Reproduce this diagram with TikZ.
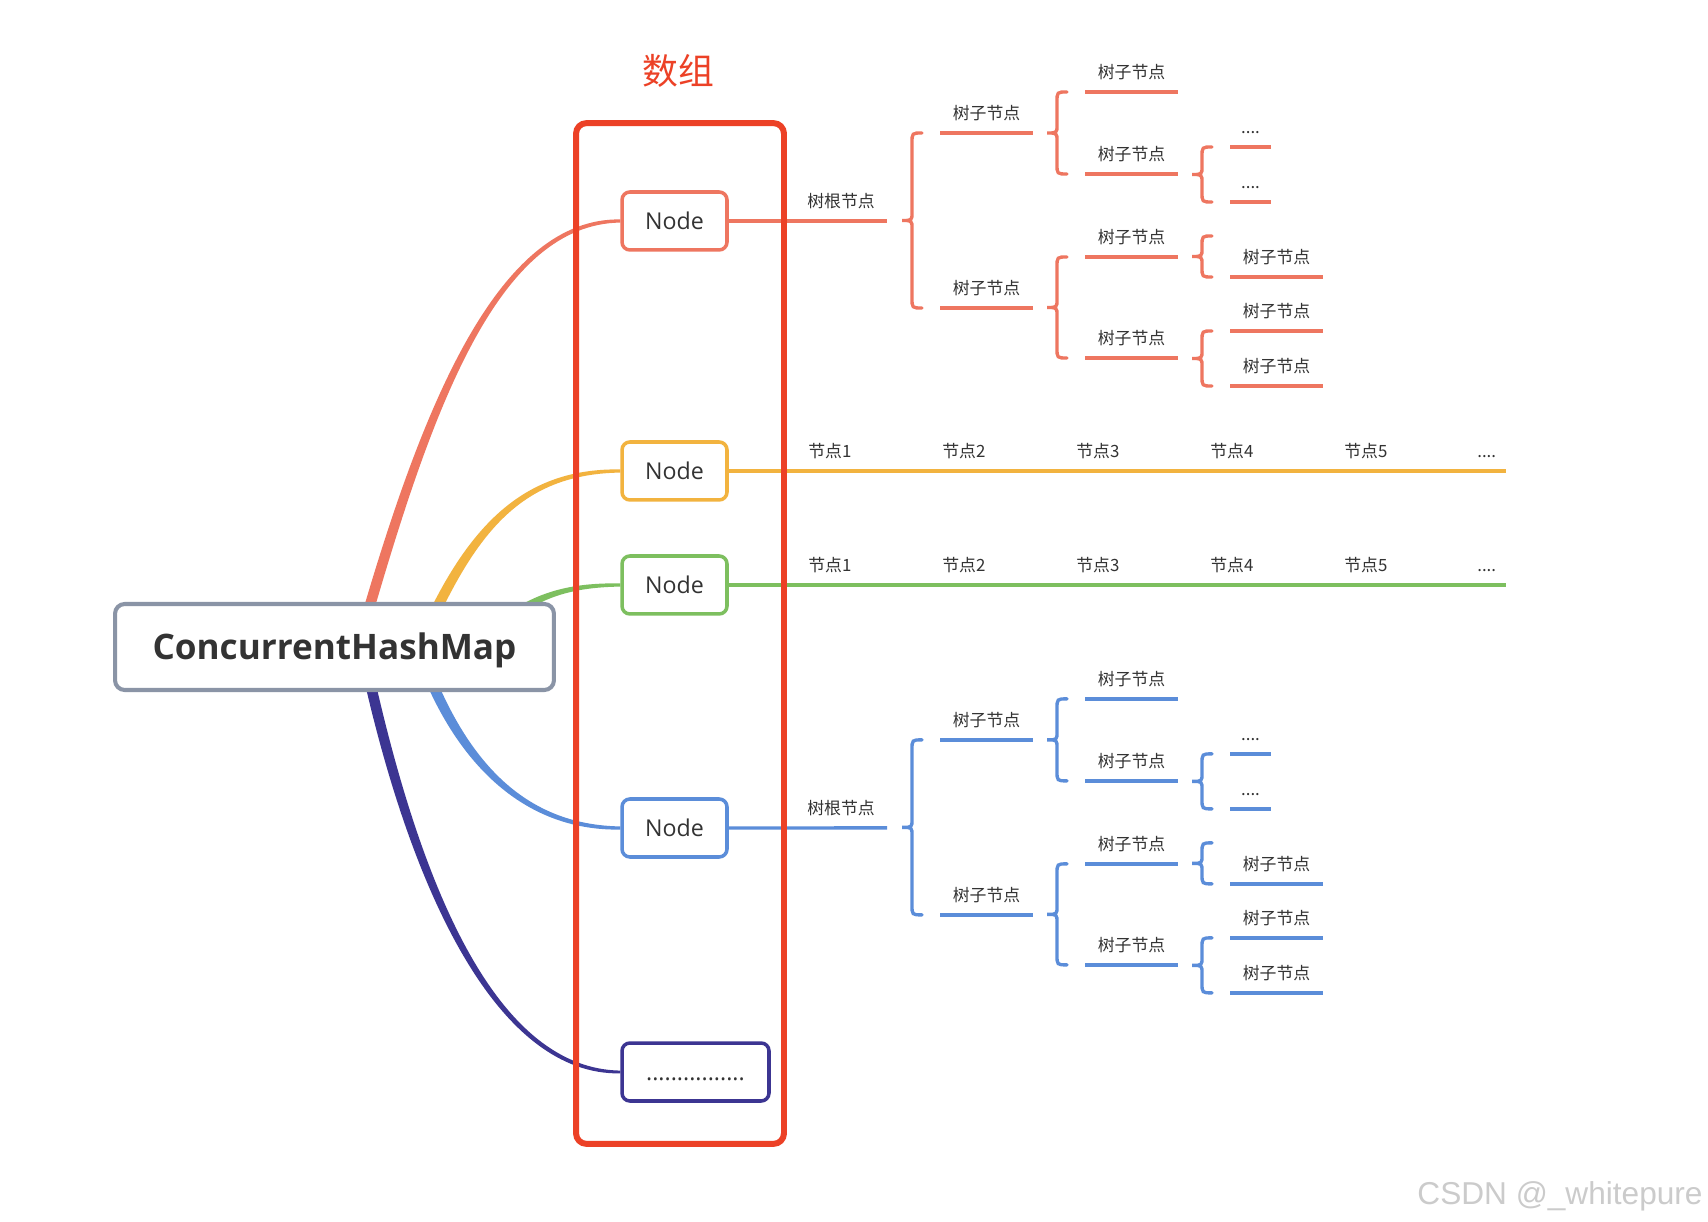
\documentclass[tikz,border=0pt]{standalone}
\usepackage{fontspec}
\setmainfont{Open Sans}
\newfontfamily\cjk{Noto Sans CJK SC}
\newfontfamily\wmfont{Liberation Sans}
\usetikzlibrary{calc}
\definecolor{salmon}{HTML}{EE7660}
\definecolor{orng}{HTML}{F2B33F}
\definecolor{grn}{HTML}{7DBF5F}
\definecolor{blu}{HTML}{5B8DD9}
\definecolor{purp}{HTML}{3C3592}
\definecolor{boxgray}{HTML}{8A94A6}
\definecolor{arrred}{HTML}{EC4126}
\definecolor{txt}{HTML}{333333}
\definecolor{wmgray}{HTML}{CBCBCB}

% tapered curve: #1 start, #2 ctrl1, #3 ctrl2, #4 end, #5 start half width,
% #6 half width at ctrl1, #7 half width at ctrl2, #8 end half width, #9 colour
\newcommand\taper[9]{%
  \fill[#9] ($(#1)!#5!90:(#2)$) .. controls ($(#2)!#6!-90:(#1)$) and ($(#3)!#7!90:(#4)$) .. ($(#4)!#8!-90:(#3)$)
    -- ($(#4)!#8!90:(#3)$) .. controls ($(#3)!#7!-90:(#4)$) and ($(#2)!#6!90:(#1)$) .. ($(#1)!#5!-90:(#2)$) -- cycle;}
% topic: name, centre x, line y, text, half width, colour
\newcommand\topic[6]{%
  \node[lbl,anchor=base] (#1) at (#2,#3-13) {#4};
  \draw[ul,#6] (#2-#5,#3) -- (#2+#5,#3);}
% curly bracket: cusp x, top y, bottom y, colour
\newcommand\bracket[4]{%
  \draw[br,#4] (#1+20,#2) .. controls (#1+10,#2) .. (#1+10,#2+10) -- (#1+10,{(#2+#3)/2-8})
    .. controls (#1+10,{(#2+#3)/2}) .. (#1,{(#2+#3)/2})
    .. controls (#1+10,{(#2+#3)/2}) .. (#1+10,{(#2+#3)/2+8}) -- (#1+10,#3-10)
    .. controls (#1+10,#3) .. (#1+20,#3);}
% tree: prefix, colour, parent node
\newcommand\drawtree[3]{%
  \draw[ul,#2] (#3.east) -- (887,221);
  \node[lbl,anchor=base] (#1R) at (841,208) {树根节点};
  \bracket{902}{133}{308}{#2}
  \topic{#1A}{986.5}{133}{树子节点}{46.5}{#2}
  \topic{#1B}{986.5}{308}{树子节点}{46.5}{#2}
  \bracket{1047}{92}{174}{#2}
  \topic{#1Aa}{1131.5}{92}{树子节点}{46.5}{#2}
  \topic{#1Ab}{1131.5}{174}{树子节点}{46.5}{#2}
  \bracket{1192}{147}{202}{#2}
  \topic{#1Aba}{1250.5}{147}{....}{20.5}{#2}
  \topic{#1Abb}{1250.5}{202}{....}{20.5}{#2}
  \bracket{1047}{257}{358}{#2}
  \topic{#1Ba}{1131.5}{257}{树子节点}{46.5}{#2}
  \topic{#1Bb}{1131.5}{358}{树子节点}{46.5}{#2}
  \bracket{1192}{236}{277}{#2}
  \topic{#1Baa}{1276.5}{277}{树子节点}{46.5}{#2}
  \bracket{1192}{331}{386}{#2}
  \topic{#1Bba}{1276.5}{331}{树子节点}{46.5}{#2}
  \topic{#1Bbb}{1276.5}{386}{树子节点}{46.5}{#2}}

\begin{document}
\begin{tikzpicture}[x=0.02cm,y=-0.02cm,
  lbl/.style={font=\cjk\fontsize{9.6}{11}\selectfont, text=txt, inner sep=0pt},
  ul/.style={line width=1.9pt},
  br/.style={line width=1.9pt, line cap=round},
  nodebox/.style={draw, line width=2pt, rounded corners=4.5pt, fill=white,
    minimum width=2.1cm, minimum height=1.16cm, inner sep=0pt,
    font=\fontsize{13.2}{15}\selectfont, text=txt, text height=9.4pt, text depth=0pt}]
\fill[white] (0,0) rectangle (1708,1222);
\useasboundingbox (0,0) rectangle (1708,1222);

% nodes of the array
\node[nodebox, draw=salmon] (n1) at (674.5,221) {Node};
\node[nodebox, draw=orng] (n2) at (674.5,471) {Node};
\node[nodebox, draw=grn] (n3) at (674.5,585) {Node};
\node[nodebox, draw=blu] (n4) at (674.5,828) {Node};
\node[nodebox, draw=purp, minimum width=2.94cm] (n5) at (695.5,1072) {................};

% curve control points
\coordinate (s1) at (368,612); \coordinate (c1a) at (430,400); \coordinate (c1b) at (500,221);
\coordinate (s2) at (435,612); \coordinate (c2a) at (480,520); \coordinate (c2b) at (530,471);
\coordinate (s3) at (500,625); \coordinate (c3a) at (535,595); \coordinate (c3b) at (570,585);
\coordinate (s4) at (432,683); \coordinate (c4a) at (470,770); \coordinate (c4b) at (530,828);
\coordinate (s5) at (370,682); \coordinate (c5a) at (420,900); \coordinate (c5b) at (500,1072);

\taper{s1}{c1a}{c1b}{n1.west}{3pt}{2.8pt}{1.9pt}{0.9pt}{salmon}
\taper{s2}{c2a}{c2b}{n2.west}{3pt}{2.6pt}{1.7pt}{0.9pt}{orng}
\taper{s3}{c3a}{c3b}{n3.west}{2.6pt}{2pt}{1.4pt}{0.9pt}{grn}
\taper{s4}{c4a}{c4b}{n4.west}{3pt}{2.6pt}{1.7pt}{0.9pt}{blu}
\taper{s5}{c5a}{c5b}{n5.west}{3pt}{2.8pt}{1.9pt}{0.8pt}{purp}

% central topic
\node[draw=boxgray, line width=2.3pt, rounded corners=5.5pt, fill=white,
  minimum width=8.78cm, minimum height=1.72cm, inner sep=0pt,
  font=\bfseries\fontsize{20}{24}\selectfont, text=txt, text height=14.3pt, text depth=0pt]
  (main) at (334.5,647) {ConcurrentHashMap};

% linked lists
\draw[line width=1.9pt, orng] (n2.east) -- (1506,471) coordinate (oend);
\draw[line width=1.9pt, grn] (n3.east) -- (1506,585) coordinate (gend);
\foreach \i in {1,...,5}{
  \node[lbl, anchor=base west] (o\i) at ({808+134*(\i-1)},458) {节点\i};
  \node[lbl, anchor=base west] (g\i) at ({808+134*(\i-1)},572) {节点\i};
}
\node[lbl, anchor=base west] (o6) at (1477,458) {....};
\node[lbl, anchor=base west] (g6) at (1477,572) {....};

% trees
\drawtree{s}{salmon}{n1}
\begin{scope}[yshift=-12.14cm]
\drawtree{b}{blu}{n4}
\end{scope}

% array frame
\node[draw=arrred, line width=3.4pt, rounded corners=6pt,
  minimum width=4.16cm, minimum height=20.42cm, inner sep=0pt] (arr) at (680,633.5) {};
\node[font=\cjk\fontsize{20.4}{24}\selectfont, text=arrred, inner sep=0pt] (title) at (678,71) {数组};

% watermark
\node[font=\wmfont\fontsize{18}{20}\selectfont, text=wmgray, anchor=base east, inner sep=0pt]
  (wm) at (1703,1204) {CSDN @\_whitepure};
\end{tikzpicture}
\end{document}
